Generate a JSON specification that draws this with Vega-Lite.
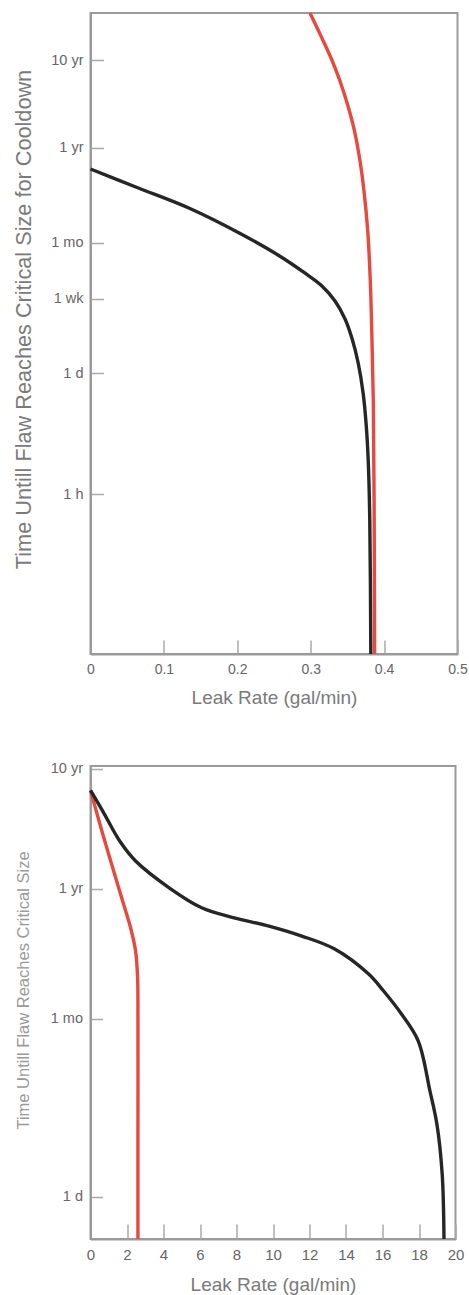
{
  "$schema": "https://vega.github.io/schema/vega-lite/v6.json",
  "padding": {"left": 12.5, "top": 5, "right": 2, "bottom": 2},
  "background": "white",
  "columns": 1,
  "spacing": 51,
  "align": "none",
  "config": {
    "font": "Liberation Sans",
    "view": {"stroke": "#9a9a9a", "strokeWidth": 2},
    "axis": {
      "grid": false,
      "domainColor": "#9a9a9a",
      "domainWidth": 2,
      "tickColor": "#aaaaaa",
      "tickWidth": 1.5,
      "labelColor": "#666666",
      "titleColor": "#7a7a7a",
      "labelFont": "Liberation Sans",
      "titleFont": "Liberation Sans",
      "titleFontWeight": "normal",
      "labelFlush": false,
      "labelOverlap": false
    }
  },
  "datasets": {
    "top": [
      {"series": "red", "rate": 0.299, "hours": 300000},
      {"series": "red", "rate": 0.314, "hours": 164400},
      {"series": "red", "rate": 0.3277, "hours": 92470},
      {"series": "red", "rate": 0.3399, "hours": 50600},
      {"series": "red", "rate": 0.3508, "hours": 26300},
      {"series": "red", "rate": 0.3597, "hours": 13650},
      {"series": "red", "rate": 0.3672, "hours": 6225},
      {"series": "red", "rate": 0.3726, "hours": 2837},
      {"series": "red", "rate": 0.3777, "hours": 995},
      {"series": "red", "rate": 0.3812, "hours": 268.5},
      {"series": "red", "rate": 0.3832, "hours": 72.4},
      {"series": "red", "rate": 0.3853, "hours": 11.58},
      {"series": "red", "rate": 0.3864, "hours": 0.843},
      {"series": "red", "rate": 0.3871, "hours": 0.0153},
      {"series": "black", "rate": 0.0, "hours": 5047},
      {"series": "black", "rate": 0.0652, "hours": 3069},
      {"series": "black", "rate": 0.1339, "hours": 1816},
      {"series": "black", "rate": 0.2026, "hours": 944},
      {"series": "black", "rate": 0.2576, "hours": 517},
      {"series": "black", "rate": 0.2919, "hours": 331},
      {"series": "black", "rate": 0.3153, "hours": 235.5},
      {"series": "black", "rate": 0.3331, "hours": 158.9},
      {"series": "black", "rate": 0.3468, "hours": 99.3},
      {"series": "black", "rate": 0.3565, "hours": 58.7},
      {"series": "black", "rate": 0.3647, "hours": 31.3},
      {"series": "black", "rate": 0.3716, "hours": 13.9},
      {"series": "black", "rate": 0.3757, "hours": 6.02},
      {"series": "black", "rate": 0.3784, "hours": 2.4},
      {"series": "black", "rate": 0.3805, "hours": 0.5},
      {"series": "black", "rate": 0.3819, "hours": 0.0153}
    ],
    "bottom": [
      {"series": "red", "rate": 0.0, "hours": 58000},
      {"series": "red", "rate": 0.67, "hours": 25100},
      {"series": "red", "rate": 1.22, "hours": 13090},
      {"series": "red", "rate": 1.76, "hours": 6950},
      {"series": "red", "rate": 2.2, "hours": 4140},
      {"series": "red", "rate": 2.47, "hours": 2665},
      {"series": "red", "rate": 2.58, "hours": 1600},
      {"series": "red", "rate": 2.6, "hours": 900},
      {"series": "red", "rate": 2.6, "hours": 100},
      {"series": "red", "rate": 2.6, "hours": 10.66},
      {"series": "black", "rate": 0.0, "hours": 58000},
      {"series": "black", "rate": 0.67, "hours": 39000},
      {"series": "black", "rate": 1.6, "hours": 21930},
      {"series": "black", "rate": 2.47, "hours": 14960},
      {"series": "black", "rate": 4.33, "hours": 8910},
      {"series": "black", "rate": 6.12, "hours": 6070},
      {"series": "black", "rate": 7.93, "hours": 5010},
      {"series": "black", "rate": 9.78, "hours": 4300},
      {"series": "black", "rate": 11.58, "hours": 3550},
      {"series": "black", "rate": 13.38, "hours": 2770},
      {"series": "black", "rate": 15.24, "hours": 1714},
      {"series": "black", "rate": 16.06, "hours": 1237},
      {"series": "black", "rate": 17.04, "hours": 796},
      {"series": "black", "rate": 17.96, "hours": 474},
      {"series": "black", "rate": 18.6, "hours": 182},
      {"series": "black", "rate": 18.98, "hours": 96.6},
      {"series": "black", "rate": 19.27, "hours": 37.1},
      {"series": "black", "rate": 19.37, "hours": 10.66}
    ]
  },
  "concat": [
    {
      "width": 367,
      "height": 641,
      "data": {"name": "top"},
      "mark": {"type": "line", "interpolate": "catmull-rom", "strokeWidth": 3.4},
      "encoding": {
        "x": {
          "field": "rate", "type": "quantitative",
          "scale": {"domain": [0, 0.5], "nice": false, "zero": false},
          "axis": {
            "values": [0, 0.1, 0.2, 0.3, 0.4, 0.5],
            "format": ".1~f",
            "title": "Leak Rate (gal/min)",
            "tickSize": -14,
            "labelPadding": 22,
            "labelFontSize": 14,
            "titleFontSize": 19,
            "titleY": 49,
            "titleBaseline": "alphabetic"
          }
        },
        "y": {
          "field": "hours", "type": "quantitative",
          "scale": {"type": "log", "domain": [0.0153, 300600], "nice": false},
          "axis": {
            "values": [1, 24, 168, 730, 8766, 87660],
            "labelExpr": "datum.value == 1 ? '1 h' : datum.value == 24 ? '1 d' : datum.value == 168 ? '1 wk' : datum.value == 730 ? '1 mo' : datum.value == 8766 ? '1 yr' : '10 yr'",
            "title": "Time Untill Flaw Reaches Critical Size for Cooldown",
            "tickSize": -13,
            "labelPadding": 20.5,
            "labelFontSize": 14.5,
            "titleFontSize": 21.7,
            "titleX": -66.65,
            "titleY": 306,
            "titleBaseline": "middle"
          }
        },
        "color": {
          "field": "series", "type": "nominal",
          "scale": {"domain": ["red", "black"], "range": ["#e64a3e", "#262626"]},
          "legend": null
        },
        "order": {"field": "hours", "sort": "descending"}
      }
    },
    {
      "width": 365,
      "height": 473,
      "data": {"name": "bottom"},
      "mark": {"type": "line", "interpolate": "catmull-rom", "strokeWidth": 3.4},
      "encoding": {
        "x": {
          "field": "rate", "type": "quantitative",
          "scale": {"domain": [0, 20], "nice": false, "zero": false},
          "axis": {
            "values": [0, 2, 4, 6, 8, 10, 12, 14, 16, 18, 20],
            "format": "d",
            "title": "Leak Rate (gal/min)",
            "tickSize": -15,
            "labelPadding": 23,
            "labelFontSize": 15,
            "titleFontSize": 19,
            "titleY": 51,
            "titleBaseline": "alphabetic"
          }
        },
        "y": {
          "field": "hours", "type": "quantitative",
          "scale": {"type": "log", "domain": [10.66, 92500], "nice": false},
          "axis": {
            "values": [24, 730, 8766, 87660],
            "labelExpr": "datum.value == 24 ? '1 d' : datum.value == 730 ? '1 mo' : datum.value == 8766 ? '1 yr' : '10 yr'",
            "title": "Time Untill Flaw Reaches Critical Size",
            "titleColor": "#9a9a9a",
            "tickSize": -12,
            "labelPadding": 20,
            "labelFontSize": 14.5,
            "titleFontSize": 16.5,
            "titleX": -67.5,
            "titleY": 224,
            "titleBaseline": "middle"
          }
        },
        "color": {
          "field": "series", "type": "nominal",
          "scale": {"domain": ["red", "black"], "range": ["#e64a3e", "#262626"]},
          "legend": null
        },
        "order": {"field": "hours", "sort": "descending"}
      }
    }
  ]
}
